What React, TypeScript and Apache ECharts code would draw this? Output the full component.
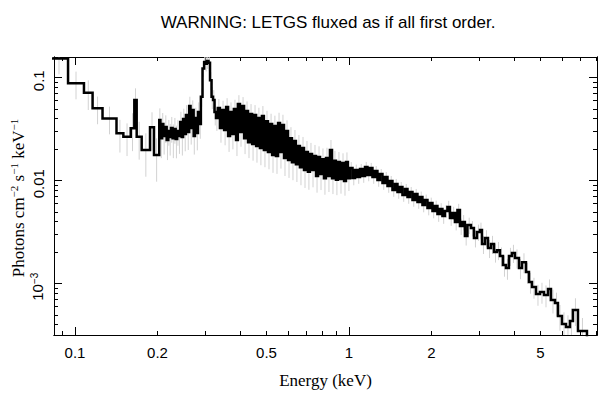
import { useEffect, useRef } from 'react';
import * as echarts from 'echarts';

// Bin low edges (keV)
const energyLo = [
  0.0810, 0.0943, 0.1078, 0.1159, 0.1260, 0.1417, 0.1501, 0.1597, 0.1646, 0.1679, 0.1751, 0.1878, 0.1942,
  0.203, 0.205, 0.208, 0.210, 0.213, 0.216, 0.219, 0.221, 0.224, 0.227,
  0.230, 0.233, 0.236, 0.239, 0.242, 0.245, 0.248, 0.251, 0.254, 0.257,
  0.261, 0.264, 0.267, 0.271, 0.274, 0.278, 0.281, 0.285, 0.288, 0.292,
  0.296, 0.299, 0.303, 0.307, 0.311, 0.315, 0.319, 0.323,
  0.327, 0.332, 0.338, 0.344, 0.350, 0.356, 0.362, 0.368, 0.374, 0.380,
  0.387, 0.393, 0.400, 0.407, 0.414, 0.421, 0.428, 0.435, 0.443, 0.450,
  0.458, 0.465, 0.473, 0.481, 0.489, 0.498, 0.506, 0.515, 0.524, 0.532,
  0.541, 0.551, 0.560, 0.569, 0.579, 0.589, 0.599, 0.609, 0.619, 0.630,
  0.640, 0.651, 0.662, 0.674, 0.685, 0.697, 0.708, 0.720, 0.733, 0.745,
  0.758, 0.771, 0.784, 0.797, 0.810, 0.824, 0.838, 0.852, 0.867, 0.881,
  0.896, 0.911, 0.927, 0.943, 0.959, 0.975, 0.991,
  1.008, 1.030, 1.052, 1.074, 1.097, 1.120, 1.144, 1.168, 1.193, 1.218,
  1.244, 1.270, 1.297, 1.325, 1.353, 1.382, 1.411, 1.441, 1.472, 1.503,
  1.535, 1.567, 1.601, 1.635, 1.669, 1.705, 1.741, 1.778, 1.816, 1.854,
  1.893, 1.934, 1.975, 2.017, 2.059, 2.103, 2.148, 2.193, 2.240, 2.287,
  2.336, 2.385, 2.436, 2.488, 2.541, 2.594, 2.649, 2.706,
  2.787, 2.858, 2.932, 3.007, 3.058, 3.136, 3.216, 3.299, 3.383, 3.469,
  3.557, 3.648, 3.741, 3.836, 3.934, 4.035, 4.173, 4.280, 4.426, 4.539,
  4.655, 4.814, 4.979, 5.149, 5.326, 5.461, 5.647, 5.791, 5.989, 6.194,
  6.405, 6.569, 6.852, 7.389,
];
const energyEnd = 8.3;

// Photons cm^-2 s^-1 keV^-1
const flux = [
  0.154, 0.0882, 0.0715, 0.0505, 0.0403, 0.0289, 0.0267, 0.0323, 0.0607, 0.0267, 0.0199, 0.0330, 0.0178,
  0.0388, 0.0259, 0.0355, 0.0272, 0.0332, 0.0248, 0.0304, 0.0266, 0.0325, 0.0259,
  0.0318, 0.0254, 0.0304, 0.0272, 0.0371, 0.0266, 0.0397, 0.0284, 0.0434, 0.0297,
  0.0532, 0.0325, 0.0486, 0.0272, 0.0406, 0.0290, 0.0465, 0.0355, 0.0654, 0.1233,
  0.1420, 0.1370, 0.1452, 0.1395, 0.0945, 0.0654, 0.0607, 0.0465,
  0.0406, 0.0508, 0.0325, 0.0486, 0.0311, 0.0519, 0.0272, 0.0465, 0.0284, 0.0497,
  0.0248, 0.0555, 0.0297, 0.0532, 0.0259, 0.0475, 0.0237, 0.0444, 0.0227, 0.0434,
  0.0217, 0.0406, 0.0208, 0.0425, 0.0199, 0.0379, 0.0190, 0.0355, 0.0178, 0.0340,
  0.0174, 0.0363, 0.0190, 0.0347, 0.0166, 0.0304, 0.0159, 0.0259, 0.0151, 0.0243,
  0.0145, 0.0217, 0.0135, 0.0208, 0.0127, 0.0190, 0.0122, 0.0182, 0.0127, 0.0174,
  0.0111, 0.0170, 0.0116, 0.0162, 0.0106, 0.0166, 0.0111, 0.0199, 0.0106, 0.0156,
  0.0102, 0.0152, 0.0104, 0.0149, 0.00994, 0.0152, 0.0106,
  0.0133, 0.01062, 0.0127, 0.01086, 0.0130, 0.0111, 0.0136, 0.01136, 0.0133, 0.01086,
  0.0124, 0.01016, 0.0116, 0.0095, 0.01086, 0.00888, 0.00993, 0.00812, 0.00929, 0.00777,
  0.00869, 0.00726, 0.0083, 0.00695, 0.00777, 0.0065, 0.00743, 0.00621, 0.00695, 0.00581,
  0.0065, 0.00543, 0.00607, 0.00508, 0.00568, 0.00475, 0.00531, 0.00454, 0.00508, 0.00555,
  0.00434, 0.00486, 0.00397, 0.00519, 0.00363, 0.00397, 0.0029, 0.00371,
  0.00347, 0.00278, 0.00318, 0.00332, 0.00243, 0.00278, 0.00222, 0.00243, 0.00203, 0.00212,
  0.00186, 0.00152, 0.00142, 0.00186, 0.00199, 0.00178, 0.00142, 0.00162, 0.0013, 0.00104,
  0.000929, 0.000794, 0.000831, 0.000777, 0.000888, 0.000695, 0.00065, 0.000486, 0.000406, 0.00038,
  0.000434, 0.000556, 0.000347, 0.00001,
];

// Relative 1-sigma errors per bin
const relError = [
  0.3, 0.3, 0.32, 0.3, 0.3, 0.35, 0.35, 0.4, 0.3, 0.4, 0.45, 0.4, 0.45,
  0.3, 0.36, 0.28, 0.34, 0.3, 0.36, 0.28, 0.34, 0.28, 0.36,
  0.28, 0.35, 0.28, 0.33, 0.26, 0.34, 0.26, 0.32, 0.25, 0.33,
  0.23, 0.31, 0.24, 0.34, 0.26, 0.32, 0.24, 0.28, 0.2, 0.17,
  0.16, 0.16, 0.16, 0.17, 0.2, 0.24, 0.25, 0.26,
  0.25, 0.22, 0.28, 0.23, 0.29, 0.22, 0.3, 0.24, 0.29, 0.23,
  0.3, 0.22, 0.28, 0.22, 0.3, 0.24, 0.3, 0.25, 0.31, 0.25,
  0.31, 0.26, 0.32, 0.25, 0.32, 0.26, 0.32, 0.26, 0.33, 0.26,
  0.33, 0.26, 0.31, 0.26, 0.33, 0.27, 0.33, 0.28, 0.33, 0.28,
  0.33, 0.28, 0.33, 0.28, 0.33, 0.28, 0.33, 0.28, 0.32, 0.28,
  0.31, 0.27, 0.3, 0.27, 0.31, 0.26, 0.3, 0.25, 0.3, 0.25,
  0.29, 0.25, 0.28, 0.24, 0.28, 0.24, 0.25,
  0.14, 0.15, 0.13, 0.14, 0.12, 0.14, 0.12, 0.13, 0.12, 0.14,
  0.12, 0.14, 0.12, 0.14, 0.12, 0.14, 0.12, 0.14, 0.12, 0.14,
  0.12, 0.14, 0.12, 0.14, 0.12, 0.14, 0.12, 0.14, 0.13, 0.15,
  0.13, 0.15, 0.13, 0.15, 0.13, 0.16, 0.14, 0.16, 0.14, 0.15,
  0.16, 0.15, 0.17, 0.15, 0.18, 0.17, 0.19, 0.18,
  0.17, 0.19, 0.18, 0.18, 0.2, 0.19, 0.2, 0.2, 0.21, 0.2,
  0.21, 0.23, 0.23, 0.2, 0.2, 0.21, 0.22, 0.22, 0.23, 0.23,
  0.23, 0.23, 0.23, 0.24, 0.24, 0.26, 0.26, 0.28, 0.3, 0.3,
  0.32, 0.3, 0.34, 0,
];

const xTicksMajor = [0.1, 1];
const xTicksMinor = [0.09, 0.2, 0.3, 0.4, 0.5, 0.6, 0.7, 0.8, 0.9, 2, 3, 4, 5, 6, 7, 8];
const xTickLabels = [0.1, 0.2, 0.5, 1, 2, 5];
const yTicksMajor = [0.001, 0.01, 0.1];
const yTicksMinor = [
  0.0004, 0.0005, 0.0006, 0.0007, 0.0008, 0.0009,
  0.002, 0.003, 0.004, 0.005, 0.006, 0.007, 0.008, 0.009,
  0.02, 0.03, 0.04, 0.05, 0.06, 0.07, 0.08, 0.09,
];
const yTickLabels = [0.001, 0.01, 0.1];

const xRange = [0.0838, 8.04];
const yRange = [0.000318, 0.159];

const L = Math.log10;
const SANS = 'Liberation Sans, Arial, Helvetica, sans-serif';
const SERIF = 'Liberation Serif, Times New Roman, serif';

export default function App() {
  const ref = useRef<HTMLDivElement>(null);

  useEffect(() => {
    document.body.style.margin = '0';
    if (!ref.current) return;
    const chart = echarts.init(ref.current, undefined, { renderer: 'svg' });

    const n = flux.length;
    const stepData: number[][] = [];
    const errData: number[][] = [];
    for (let i = 0; i < n; i++) {
      const lo = energyLo[i];
      const hi = i + 1 < n ? energyLo[i + 1] : energyEnd;
      stepData.push([L(lo), L(flux[i])]);
      stepData.push([L(hi), L(flux[i])]);
      const e = relError[i];
      if (e > 0) {
        errData.push([(L(lo) + L(hi)) / 2, L(flux[i] * (1 - e)), L(flux[i] * (1 + e))]);
      }
    }

    const axisCommon = {
      type: 'value' as const,
      splitLine: { show: false },
      axisPointer: { show: false },
    };
    const lineStyle = { color: '#000', width: 1 };

    const mkX = (pos: 'bottom' | 'top', ticks: number[], len: number, labels: boolean) => ({
      ...axisCommon,
      position: pos,
      min: L(xRange[0]),
      max: L(xRange[1]),
      axisLine: { show: true, onZero: false, lineStyle },
      axisTick: { show: true, inside: true, length: len, lineStyle, customValues: ticks.map(L) },
      axisLabel: labels
        ? {
            show: true,
            customValues: xTickLabels.map(L),
            margin: 10,
            color: '#000',
            fontSize: 15,
            fontFamily: SANS,
            formatter: (v: number) => String(Number(Math.pow(10, v).toPrecision(1))),
          }
        : { show: false },
    });

    const mkY = (pos: 'left' | 'right', ticks: number[], len: number, labels: boolean) => ({
      ...axisCommon,
      position: pos,
      min: L(yRange[0]),
      max: L(yRange[1]),
      axisLine: { show: true, onZero: false, lineStyle },
      axisTick: { show: true, inside: true, length: len, lineStyle, customValues: ticks.map(L) },
      axisLabel: labels
        ? {
            show: true,
            customValues: yTickLabels.map(L),
            rotate: 90,
            margin: 8,
            color: '#000',
            fontSize: 15,
            fontFamily: SANS,
            padding: [0, 6, 0, 0],
            formatter: (v: number) => {
              const r = Math.round(v);
              if (r === -1) return '0.1';
              if (r === -2) return '0.01';
              return '{b|10}{s|' + '\u2212' + String(-r) + '}';
            },
            rich: {
              b: { fontSize: 15, fontFamily: SANS, color: '#000' },
              s: { fontSize: 10, fontFamily: SANS, color: '#000', padding: [0, 0, 7, 0] },
            },
          }
        : { show: false },
    });

    chart.setOption({
      animation: false,
      backgroundColor: '#fff',
      title: {
        text: 'WARNING: LETGS fluxed as if all first order.',
        left: 323,
        top: 9,
        textAlign: 'center',
        textStyle: { fontSize: 17, fontWeight: 'normal', fontFamily: SANS, color: '#000' },
      },
      grid: { left: 54, right: 11, top: 57, bottom: 64, containLabel: false },
      graphic: [
        {
          type: 'text',
          x: 18,
          y: 198,
          rotation: Math.PI / 2,
          style: {
            text: '{a|Photons cm}{s|\u22122}{a| s}{s|\u22121}{a| keV}{s|\u22121}',
            align: 'center',
            verticalAlign: 'middle',
            rich: {
              a: { fontSize: 17, fontFamily: SERIF, fill: '#000' },
              s: { fontSize: 11, fontFamily: SERIF, fill: '#000', padding: [0, 0, 8, 0] },
            },
          },
        },
      ],
      xAxis: [
        {
          ...mkX('bottom', xTicksMinor, 4, true),
          name: 'Energy (keV)',
          nameLocation: 'middle',
          nameGap: 37,
          nameTextStyle: { fontSize: 17, fontFamily: SERIF, color: '#000' },
        },
        mkX('bottom', xTicksMajor, 8, false),
        mkX('top', xTicksMinor, 4, false),
        mkX('top', xTicksMajor, 8, false),
      ],
      yAxis: [
        mkY('left', yTicksMinor, 4, true),
        mkY('left', yTicksMajor, 8, false),
        mkY('right', yTicksMinor, 4, false),
        mkY('right', yTicksMajor, 8, false),
      ],
      series: [
        {
          type: 'custom',
          xAxisIndex: 0,
          yAxisIndex: 0,
          clip: true,
          silent: true,
          z: 1,
          data: errData,
          encode: { x: 0, y: [1, 2] },
          renderItem: (_params: any, api: any) => {
            const p1 = api.coord([api.value(0), api.value(1)]);
            const p2 = api.coord([api.value(0), api.value(2)]);
            return {
              type: 'line',
              shape: { x1: p1[0], y1: p1[1], x2: p2[0], y2: p2[1] },
              style: { stroke: '#d2d2d2', lineWidth: 1 },
            };
          },
        },
        {
          type: 'line',
          xAxisIndex: 0,
          yAxisIndex: 0,
          data: stepData,
          showSymbol: false,
          symbol: 'none',
          clip: true,
          silent: true,
          z: 3,
          lineStyle: { color: '#000', width: 2.5, join: 'miter', cap: 'butt' },
        },
      ],
    });

    return () => {
      chart.dispose();
    };
  }, []);

  return <div ref={ref} style={{ width: 608, height: 399 }} />;
}
